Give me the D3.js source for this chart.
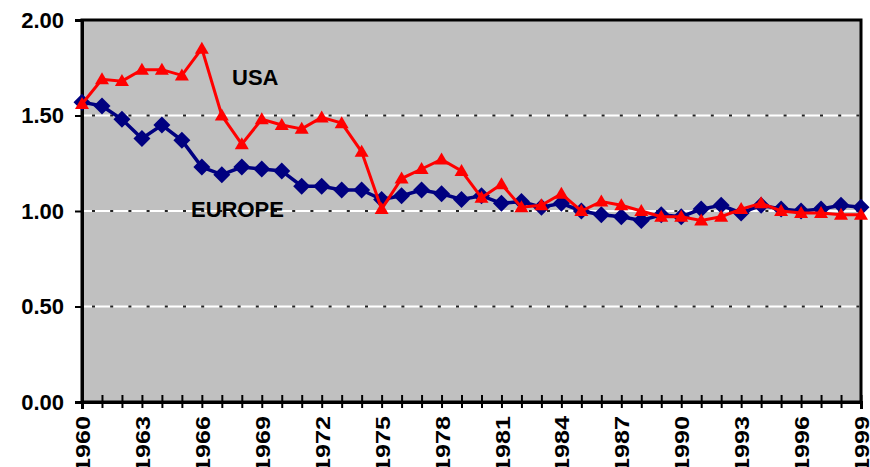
<!DOCTYPE html>
<html>
<head>
<meta charset="utf-8">
<script src="https://cdn.jsdelivr.net/npm/d3@7"></script>
<style>
body { margin: 0; background: #fff; }
text { font-family: "Liberation Sans", Arial, sans-serif; font-weight: bold; }
</style>
</head>
<body>
<script>
// USA vs Europe ratio, 1960 - 1999

var years = d3.range(1960, 2000);
var usaValues = [1.56, 1.69, 1.68, 1.74, 1.74, 1.71, 1.85, 1.50, 1.35, 1.48,
                 1.45, 1.43, 1.49, 1.46, 1.31, 1.01, 1.17, 1.22, 1.27, 1.21,
                 1.07, 1.14, 1.02, 1.03, 1.09, 1.00, 1.05, 1.03, 1.00, 0.97,
                 0.97, 0.95, 0.97, 1.01, 1.04, 1.00, 0.99, 0.99, 0.98, 0.98];
var europeValues = [1.57, 1.55, 1.48, 1.38, 1.45, 1.37, 1.23, 1.19, 1.23, 1.22,
                    1.21, 1.13, 1.13, 1.11, 1.11, 1.06, 1.08, 1.11, 1.09, 1.06,
                    1.08, 1.04, 1.05, 1.02, 1.04, 1.00, 0.98, 0.97, 0.95, 0.98,
                    0.97, 1.01, 1.03, 0.99, 1.03, 1.01, 1.00, 1.01, 1.03, 1.02];
var yTicks = [0, 0.5, 1.0, 1.5, 2.0];
var gridTicks = [0.5, 1.0, 1.5];

// set margins
var margin = {top: 20, right: 9, bottom: 65, left: 82};
var width = 870 - margin.left - margin.right;
var height = 467 - margin.top - margin.bottom;

var xScale = d3.scaleLinear().domain([1960, 1999]).range([0, width]);
var yScale = d3.scaleLinear().domain([0, 2]).range([height, 0]);

var svg = d3.select("body").append("svg")
    .attr("width", width + margin.left + margin.right)
    .attr("height", height + margin.top + margin.bottom)
    .append("g")
    .attr("transform", "translate(" + margin.left + "," + margin.top + ")");

// plot background
svg.append("rect")
    .attr("width", width)
    .attr("height", height)
    .attr("fill", "#c0c0c0");

// gridlines: white with black dots
svg.selectAll(".grid")
    .data(gridTicks)
    .enter().append("line")
    .attr("class", "grid")
    .attr("x1", 0).attr("x2", width)
    .attr("y1", function(d) { return yScale(d); })
    .attr("y2", function(d) { return yScale(d); })
    .attr("stroke", "#fff")
    .attr("stroke-width", 2);

svg.selectAll(".griddot")
    .data(gridTicks)
    .enter().append("line")
    .attr("class", "griddot")
    .attr("x1", 0).attr("x2", width)
    .attr("y1", function(d) { return yScale(d); })
    .attr("y2", function(d) { return yScale(d); })
    .attr("stroke", "#222")
    .attr("stroke-width", 2)
    .attr("stroke-dasharray", "3,15.2")
    .attr("stroke-dashoffset", -10);

// frame
svg.append("rect")
    .attr("width", width)
    .attr("height", height)
    .attr("fill", "none")
    .attr("stroke", "#000")
    .attr("stroke-width", 3);

// y axis
var yAxis = d3.axisLeft(yScale)
    .tickValues(yTicks)
    .tickSize(7)
    .tickPadding(11)
    .tickFormat(d3.format(".2f"));

var gy = svg.append("g").attr("class", "y axis").call(yAxis);
gy.select(".domain").attr("stroke-width", 3);
gy.selectAll(".tick line").attr("stroke-width", 2);
gy.selectAll(".tick text")
    .attr("font-size", 22)
    .attr("font-family", "Liberation Sans, Arial, sans-serif")
    .attr("fill", "#000");

// x axis, tick every year, label every third
var xAxis = d3.axisBottom(xScale)
    .tickValues(years)
    .tickSize(7)
    .tickFormat(function(d) { return (d - 1960) % 3 === 0 ? d : ""; });

var gx = svg.append("g")
    .attr("class", "x axis")
    .attr("transform", "translate(0," + height + ")")
    .call(xAxis);
gx.select(".domain").attr("stroke-width", 3);
gx.selectAll(".tick line")
    .attr("y1", -7)
    .attr("y2", 6)
    .attr("stroke-width", 2);
gx.selectAll(".tick text")
    .attr("font-size", 21)
    .attr("font-family", "Liberation Sans, Arial, sans-serif")
    .attr("fill", "#000")
    .attr("text-anchor", "end")
    .attr("y", 0)
    .attr("dy", "0.36em")
    .attr("transform", "translate(0,14) rotate(-90) scale(1.2,1)");

// lines
var usaData = years.map(function(y, i) { return {year: y, value: usaValues[i]}; });
var europeData = years.map(function(y, i) { return {year: y, value: europeValues[i]}; });

var line = d3.line()
    .x(function(d) { return xScale(d.year); })
    .y(function(d) { return yScale(d.value); });

svg.append("path")
    .datum(europeData)
    .attr("d", line)
    .attr("fill", "none")
    .attr("stroke", "#000080")
    .attr("stroke-width", 3.5);

svg.selectAll(".diamond")
    .data(europeData)
    .enter().append("path")
    .attr("class", "diamond")
    .attr("d", "M0,-8.5L8.5,0L0,8.5L-8.5,0Z")
    .attr("transform", function(d) {
        return "translate(" + xScale(d.year) + "," + yScale(d.value) + ")";
    })
    .attr("fill", "#000080");

svg.append("path")
    .datum(usaData)
    .attr("d", line)
    .attr("fill", "none")
    .attr("stroke", "#ff0000")
    .attr("stroke-width", 3);

svg.selectAll(".triangle")
    .data(usaData)
    .enter().append("path")
    .attr("class", "triangle")
    .attr("d", "M0,-7L7,5L-7,5Z")
    .attr("transform", function(d) {
        return "translate(" + xScale(d.year) + "," + yScale(d.value) + ")";
    })
    .attr("fill", "#ff0000");

// series labels
svg.append("text")
    .attr("x", 232 - margin.left)
    .attr("y", 85 - margin.top)
    .attr("font-size", 22)
    .text("USA");

svg.append("text")
    .attr("x", 191 - margin.left)
    .attr("y", 217 - margin.top)
    .attr("font-size", 22)
    .text("EUROPE");
</script>
</body>
</html>
